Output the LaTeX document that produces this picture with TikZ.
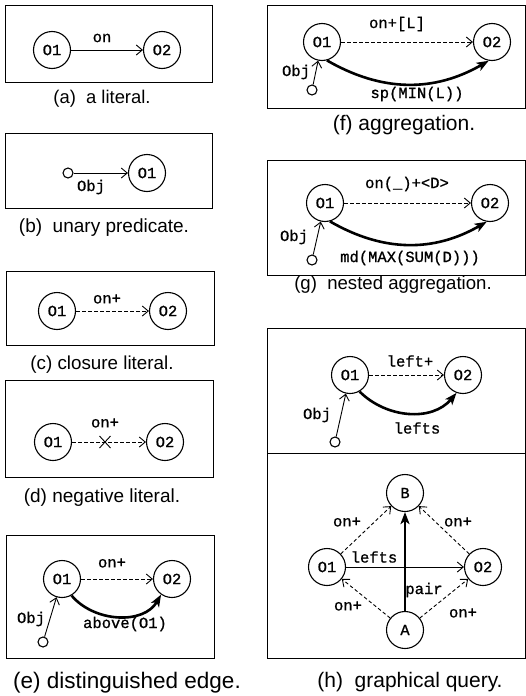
\documentclass[tikz,border=0pt]{standalone}
\usepackage{fontspec}
\setmainfont{Liberation Sans}
\newfontfamily\monofam[FakeBold=0.9]{Liberation Mono}
\usetikzlibrary{arrows.meta}

\newcommand{\lab}{\monofam\fontsize{15.5}{16}\selectfont}
\newcommand{\capsize}[1]{\fontsize{#1}{#1}\selectfont}

\tikzset{
  obj/.style={circle, draw, line width=1.1pt, minimum size=37pt, inner sep=0pt, font=\lab},
  dot/.style={circle, draw, line width=1.1pt, minimum size=10pt, inner sep=0pt},
  edge/.style={line width=0.9pt, -{Straight Barb[length=6pt,width=10pt]}},
  dedge/.style={edge, dash pattern=on 3.5pt off 2.5pt},
  hedge/.style={line width=2.6pt, -{Stealth[length=12pt,width=9pt,inset=3pt]}},
  panel/.style={draw, line width=0.9pt},
  lbl/.style={font=\lab, inner sep=1pt},
  caption/.style={inner sep=0pt}
}

\begin{document}
\begin{tikzpicture}[x=1pt, y=-1pt]
\useasboundingbox (0,0) rectangle (526,696);

% ---------- (a) a literal ----------
\draw[panel] (5,5) rectangle (212,82);
\node[obj] (a1) at (52,50) {O1};
\node[obj] (a2) at (162,50) {O2};
\draw[edge] (a1) -- (a2);
\node[lbl] (alab) at (102,38) {on};
\node[caption, font=\capsize{18.4}] (acap) at (102,99) {(a)\ \ a literal.};

% ---------- (b) unary predicate ----------
\draw[panel] (5,133) rectangle (212,208);
\node[dot] (bd) at (68,173) {};
\node[obj] (b1) at (147,173) {O1};
\draw[edge] (bd) -- (b1);
\node[lbl] (blab) at (91,187) {Obj};
\node[caption, font=\capsize{19}] (bcap) at (104,228) {(b)\ \ unary predicate.};

% ---------- (c) closure literal ----------
\draw[panel] (6,271) rectangle (214,345);
\node[obj] (c1) at (57,311) {O1};
\node[obj] (c2) at (168,311) {O2};
\draw[dedge] (c1) -- (c2);
\node[lbl] (clab) at (107,299) {on+};
\node[caption, font=\capsize{18.8}] (ccap) at (102,365) {(c) closure literal.};

% ---------- (d) negative literal ----------
\draw[panel] (5,380) rectangle (213,477);
\node[obj] (d1) at (53,442) {O1};
\node[obj] (d2) at (165,442) {O2};
\draw[dedge] (d1) -- (d2);
\coordinate (dx) at (105,442);
\draw[line width=0.9pt] ([shift={(-5.5,-6)}]dx) -- ([shift={(5.5,6)}]dx)
                        ([shift={(-5.5,6)}]dx) -- ([shift={(5.5,-6)}]dx);
\node[lbl] (dlab) at (105,423) {on+};
\node[caption, font=\capsize{19}] (dcap) at (102,498) {(d) negative literal.};

% ---------- (e) distinguished edge ----------
\draw[panel] (6,535) rectangle (214,658);
\node[obj] (e1) at (62,579) {O1};
\node[obj] (e2) at (172,579) {O2};
\node[dot] (ed) at (43,642) {};
\draw[dedge] (e1) -- (e2);
\draw[edge] (ed) -- (e1);
\draw[hedge] (e1.-60) to[out=-50, in=-120] (e2.-125);
\node[lbl] (elab1) at (112,563) {on+};
\node[lbl] (elab2) at (125,624) {above(O1)};
\node[lbl] (elab3) at (31,619) {Obj};
\node[caption, font=\capsize{22.5}] (ecap) at (127,683) {(e) distinguished edge.};

% ---------- (f) aggregation ----------
\draw[panel] (267,5) rectangle (525,108);
\node[obj] (f1) at (322,42) {O1};
\node[obj] (f2) at (492,42) {O2};
\node[dot] (fd) at (312,90) {};
\draw[dedge] (f1) -- (f2);
\draw[edge] (fd) -- (f1);
\draw[hedge] (f1.-75) to[out=-30, in=-150] (f2.-100);
\node[lbl] (flab1) at (397,24) {on+[L]};
\node[lbl] (flab2) at (417,94) {sp(MIN(L))};
\node[lbl] (flab3) at (296,72) {Obj};
\node[caption, font=\capsize{21}] (fcap) at (404,125) {(f) aggregation.};

% ---------- (g) nested aggregation ----------
\draw[panel] (267,160) rectangle (525,275);
\node[obj] (g1) at (325,203) {O1};
\node[obj] (g2) at (490,203) {O2};
\node[dot] (gd) at (312,260) {};
\draw[dedge] (g1) -- (g2);
\draw[edge] (gd) -- (g1);
\draw[hedge] (g1.-75) to[out=-30, in=-150] (g2.-100);
\node[lbl] (glab1) at (407,184) {on(\_)+<D>};
\node[lbl] (glab2) at (410,258) {md(MAX(SUM(D)))};
\node[lbl] (glab3) at (294,237) {Obj};
\node[caption, font=\capsize{18.6}] (gcap) at (393,285) {(g)\ \ nested aggregation.};

% ---------- (h) graphical query ----------
\draw[panel] (267,328) rectangle (525,658);
\draw[panel] (267,453) -- (525,453);
% rule
\node[obj] (h1) at (350,375) {O1};
\node[obj] (h2) at (463,375) {O2};
\node[dot] (hd) at (335,442) {};
\draw[dedge] (h1) -- (h2);
\draw[edge] (hd) -- (h1);
\draw[hedge] (h1.-60) to[out=-45, in=-130] (h2.-110);
\node[lbl] (hlab1) at (410,361) {left+};
\node[lbl] (hlab2) at (417,428) {lefts};
\node[lbl] (hlab3) at (317,415) {Obj};
% query
\node[obj] (qB) at (405,493) {B};
\node[obj] (q1) at (327,567) {O1};
\node[obj] (q2) at (483,567) {O2};
\node[obj] (qA) at (405,630) {A};
\draw[dedge] (q1) -- (qB);
\draw[dedge] (q2) -- (qB);
\draw[dedge] (qA) -- (q1);
\draw[dedge] (qA) -- (q2);
\draw[edge] (q1) -- (q2);
\draw[hedge] (qA) -- (qB);
\node[lbl] (qlab1) at (347,522) {on+};
\node[lbl] (qlab2) at (458,522) {on+};
\node[lbl] (qlab3) at (374,557) {lefts};
\node[lbl] (qlab4) at (424,590) {pair};
\node[lbl] (qlab5) at (348,606) {on+};
\node[lbl] (qlab6) at (463,613) {on+};
\node[caption, font=\capsize{21}] (hcap) at (410,682) {(h)\ \ graphical query.};
\end{tikzpicture}
\end{document}
